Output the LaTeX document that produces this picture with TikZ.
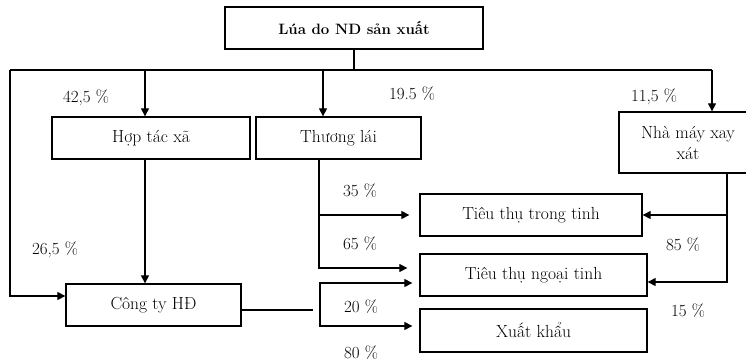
\documentclass[tikz,border=0pt]{standalone}
\usepackage{fontspec}
\usetikzlibrary{arrows.meta}
\begin{document}
\begin{tikzpicture}[x=1pt,y=-1pt,
  box/.style={draw,line width=1.3pt,inner sep=0pt,align=center,font=\fontsize{17.5}{21}\selectfont},
  lbl/.style={inner sep=0pt,font=\fontsize{17}{20}\selectfont},
  conn/.style={line width=1.1pt},
  arr/.style={conn,-{Triangle[length=8pt,width=8pt]}}]
\useasboundingbox (0,0) rectangle (746,361);
% boxes
\node[box,minimum width=258pt,minimum height=42pt,font=\fontsize{15}{18}\selectfont\bfseries] (top) at (354,28) {Lúa do ND sản xuất};
\node[box,minimum width=198pt,minimum height=42pt] (htx) at (151,138) {Hợp tác xã};
\node[box,minimum width=165pt,minimum height=42pt] (tl) at (338.5,138) {Thương lái};
\node[box,minimum width=138pt,minimum height=61pt] (nm) at (688,142.5) {Nhà máy xay\\xát};
\node[box,minimum width=222pt,minimum height=42pt] (ttt) at (531,215) {Tiêu thụ trong tinh};
\node[box,minimum width=227pt,minimum height=42pt] (tng) at (533.5,275) {Tiêu thụ ngoại tinh};
\node[box,minimum width=227pt,minimum height=43pt] (xk) at (533.5,330.5) {Xuất khẩu};
\node[box,minimum width=175pt,minimum height=42pt] (ct) at (153.5,305) {Công ty HĐ};
% labels
\node[lbl] (l425) at (86,98) {42,5 \%};
\node[lbl] (l195) at (412,94) {19.5 \%};
\node[lbl] (l115) at (654,97) {11,5 \%};
\node[lbl] (l35) at (360,191) {35 \%};
\node[lbl] (l65) at (360,244) {65 \%};
\node[lbl] (l20) at (361,307) {20 \%};
\node[lbl] (l80) at (361,353) {80 \%};
\node[lbl] (l85) at (683,245) {85 \%};
\node[lbl] (l15) at (688,311) {15 \%};
\node[lbl] (l265) at (55,250) {26,5 \%};
% coordinates
\coordinate (busL) at (10,70);
\coordinate (busR) at (712,70);
\coordinate (hx) at (145,70);
\coordinate (tx) at (323,70);
\coordinate (vx) at (319,0);
\coordinate (ctend) at (313,310);
\coordinate (v2top) at (320,283);
\coordinate (v2bot) at (320,326);
\coordinate (rx) at (727,0);
% connectors
\draw[conn] (top.south) -- (top.south |- busL);
\draw[conn] (busL) -- (busR);
\draw[arr] (busR) -- (nm.north -| busR);
\draw[arr] (hx) -- (htx.north -| hx);
\draw[arr] (tx) -- (tl.north -| tx);
\draw[arr] (busL) |- ([yshift=9pt]ct.west);
\draw[arr] (htx.south -| hx) -- (ct.north -| hx);
\draw[arr,shorten >=10pt] (tl.south -| vx) |- (ttt.west);
\draw[arr,shorten >=12pt] (tl.south -| vx) |- ([yshift=7pt]tng.west);
\draw[conn] ([yshift=-5pt]ct.east) -- (ctend);
\draw[arr,shorten >=7pt] (v2bot) -- (v2top) -- ([yshift=-8pt]tng.west);
\draw[arr,shorten >=7pt] (v2top) -- (v2bot) -- ([yshift=4.5pt]xk.west);
\draw[arr] (nm.south -| rx) |- (ttt.east);
\draw[arr] (nm.south -| rx) |- ([yshift=-7pt]tng.east);
\end{tikzpicture}
\end{document}
